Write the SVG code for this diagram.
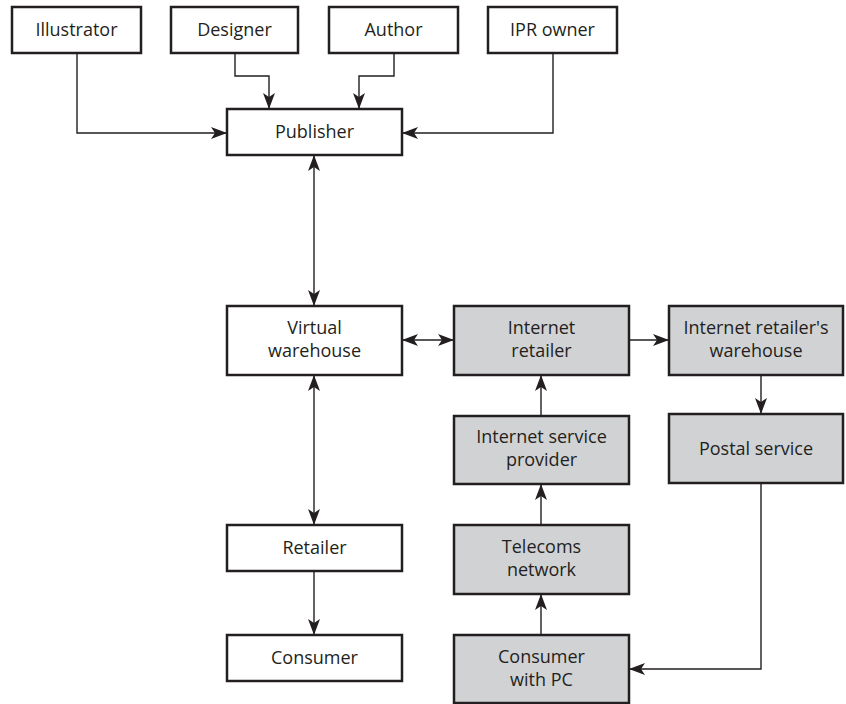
<svg xmlns="http://www.w3.org/2000/svg" width="846" height="704" viewBox="0 0 846 704">
<style>
.b{fill:#fff;stroke:#231f20;stroke-width:2.5}
.g{fill:#d1d2d4;stroke:#231f20;stroke-width:2.5}
text{font-family:"Open Sans","Noto Sans",sans-serif;font-size:18px;fill:#231f20;text-anchor:middle}
.c path{fill:none;stroke:#231f20;stroke-width:1.4}
</style>
<defs>
<marker id="a" viewBox="0 0 16 12" refX="16" refY="6" markerWidth="16" markerHeight="12" markerUnits="userSpaceOnUse" orient="auto-start-reverse">
<path d="M0,0 L16,6 L0,12 L4,6 z" fill="#231f20"/>
</marker>
</defs>
<rect width="846" height="704" fill="#fff"/>
<g class="c">
<path d="M77,53 V133 H227" marker-end="url(#a)"/>
<path d="M235,53 V76 H269 V109" marker-end="url(#a)"/>
<path d="M394,53 V76 H359 V109" marker-end="url(#a)"/>
<path d="M553,53 V133 H402" marker-end="url(#a)"/>
<path d="M314,155 V306" marker-start="url(#a)" marker-end="url(#a)"/>
<path d="M402,340 H454" marker-start="url(#a)" marker-end="url(#a)"/>
<path d="M629,340 H669" marker-end="url(#a)"/>
<path d="M761,375 V414" marker-end="url(#a)"/>
<path d="M314,375 V525" marker-start="url(#a)" marker-end="url(#a)"/>
<path d="M314,571 V635" marker-end="url(#a)"/>
<path d="M541,416 V375" marker-end="url(#a)"/>
<path d="M541,525 V484" marker-end="url(#a)"/>
<path d="M541,635 V594" marker-end="url(#a)"/>
<path d="M761,483 V669 H629" marker-end="url(#a)"/>
</g>
<g id="illustrator"><rect class="b" x="12" y="7" width="129" height="46"/><text x="76.5" y="36">Illustrator</text></g>
<g id="designer"><rect class="b" x="171" y="7" width="127" height="46"/><text x="234.5" y="36">Designer</text></g>
<g id="author"><rect class="b" x="329" y="7" width="129" height="46"/><text x="393.5" y="36">Author</text></g>
<g id="ipr"><rect class="b" x="488" y="7" width="129" height="46"/><text x="552.5" y="36">IPR owner</text></g>
<g id="publisher"><rect class="b" x="227" y="109" width="175" height="46"/><text x="314.5" y="138">Publisher</text></g>
<g id="virtual"><rect class="b" x="227" y="306" width="175" height="69"/><text x="314.5" y="334">Virtual</text><text x="314.5" y="357">warehouse</text></g>
<g id="iretailer"><rect class="g" x="454" y="306" width="175" height="69"/><text x="541.5" y="334">Internet</text><text x="541.5" y="357">retailer</text></g>
<g id="iwarehouse"><rect class="g" x="669" y="306" width="174" height="69"/><text x="756" y="334">Internet retailer's</text><text x="756" y="357">warehouse</text></g>
<g id="postal"><rect class="g" x="669" y="414" width="174" height="69"/><text x="756" y="455">Postal service</text></g>
<g id="isp"><rect class="g" x="454" y="416" width="175" height="68"/><text x="541.5" y="443">Internet service</text><text x="541.5" y="466">provider</text></g>
<g id="telecoms"><rect class="g" x="454" y="525" width="175" height="69"/><text x="541.5" y="553">Telecoms</text><text x="541.5" y="576">network</text></g>
<g id="consumerpc"><rect class="g" x="454" y="635" width="175" height="68"/><text x="541.5" y="663">Consumer</text><text x="541.5" y="686">with PC</text></g>
<g id="retailer"><rect class="b" x="227" y="525" width="175" height="46"/><text x="314.5" y="554">Retailer</text></g>
<g id="consumer"><rect class="b" x="227" y="635" width="175" height="46"/><text x="314.5" y="664">Consumer</text></g>
</svg>
